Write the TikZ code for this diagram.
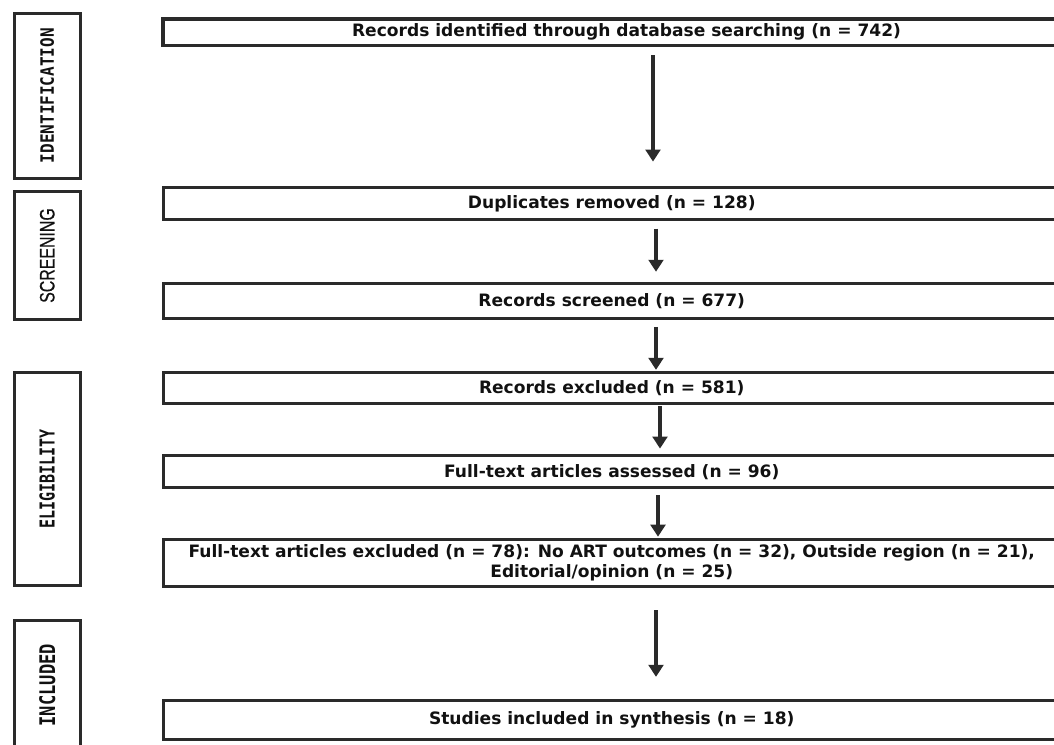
\documentclass[tikz,border=0pt]{standalone}
\usepackage{fontspec}
\setmainfont{DejaVu Sans}
\newfontfamily\monob{DejaVu Sans Mono}
\newfontfamily\lsans{Liberation Sans}[FakeBold=0.6]
\usetikzlibrary{arrows.meta}
\definecolor{ln}{HTML}{2A2A2A}
\definecolor{tx}{HTML}{111111}
\tikzset{
  mainbox/.style={draw=ln, line width=2.3pt, rectangle, inner sep=0pt, outer sep=0pt,
    minimum width=672.4pt, text=tx, align=center,
    font=\fontsize{12.8pt}{14.4pt}\selectfont\bfseries},
  sidebox/.style={draw=ln, line width=2.3pt, rectangle, inner sep=0pt, outer sep=0pt,
    rotate=90, minimum height=49.6pt, text=tx},
  arr/.style={draw=ln, line width=3pt, -{Triangle[width=11pt,length=9pt]}}
}
\begin{document}
\begin{tikzpicture}[x=0.75pt,y=-0.75pt]
\useasboundingbox (0,0) rectangle (1054,744);
\clip (0,0) rectangle (1054,744);
% side boxes
\node[sidebox, minimum width=123.8pt] (s1) at (47.25,95.7)
  {\monob\bfseries\fontsize{12pt}{12pt}\selectfont\scalebox{1}[1.15]{IDENTIFICATION}};
\node[sidebox, minimum width=95.7pt] (s2) at (47.25,255.5)
  {\lsans\fontsize{15.7pt}{15.7pt}\selectfont\scalebox{0.76}[1]{SCREENING}};
\node[sidebox, minimum width=159.8pt] (s3) at (47.25,479)
  {\monob\bfseries\fontsize{11.25pt}{11.25pt}\selectfont\scalebox{1}[1.37]{ELIGIBILITY}};
\node[sidebox, minimum width=97.1pt] (s4) at (47.25,685.25)
  {\monob\bfseries\fontsize{12.8pt}{12.8pt}\selectfont\scalebox{1}[1.26]{INCLUDED}};
% main boxes
\node[mainbox, minimum width=695.25pt, minimum height=19.9pt] (b1) at (626.5,32.25)
  {Records identified through database searching (n = 742)};
\node[mainbox, minimum height=24pt] (b2) at (611.75,203.6) {Duplicates removed (n = 128)};
\node[mainbox, minimum height=26.25pt] (b3) at (611.75,301) {Records screened (n = 677)};
\node[mainbox, minimum height=23.6pt] (b4) at (611.75,388) {Records excluded (n = 581)};
\node[mainbox, minimum height=23.8pt] (b5) at (611.75,471.8) {Full-text articles assessed (n = 96)};
\node[mainbox, minimum height=35pt] (b6) at (611.75,562.7)
  {Full-text articles excluded (n = 78): No ART outcomes (n = 32), Outside region (n = 21),\\
   Editorial/opinion (n = 25)};
\node[mainbox, minimum height=29.7pt] (b7) at (611.75,720) {Studies included in synthesis (n = 18)};
% arrow columns
\coordinate (c1) at (653,0);
\coordinate (c2) at (656,0);
\coordinate (c3) at (656,0);
\coordinate (c4) at (660,0);
\coordinate (c5) at (658,0);
\coordinate (c6) at (656,0);
\draw[arr, shorten <=7.2pt, shorten >=19.5pt] (b1.south -| c1) -- (b2.north -| c1);
\draw[arr, shorten <=6.7pt, shorten >=8.8pt] (b2.south -| c2) -- (b3.north -| c2);
\draw[arr, shorten <=6.3pt, shorten >=1.8pt] (b3.south -| c3) -- (b4.north -| c3);
\draw[arr, shorten <=2pt, shorten >=5.5pt] (b4.south -| c4) -- (b5.north -| c4);
\draw[arr, shorten <=5.8pt, shorten >=2pt] (b5.south -| c5) -- (b6.north -| c5);
\draw[arr, shorten <=18pt, shorten >=17.5pt] (b6.south -| c6) -- (b7.north -| c6);
\end{tikzpicture}
\end{document}
